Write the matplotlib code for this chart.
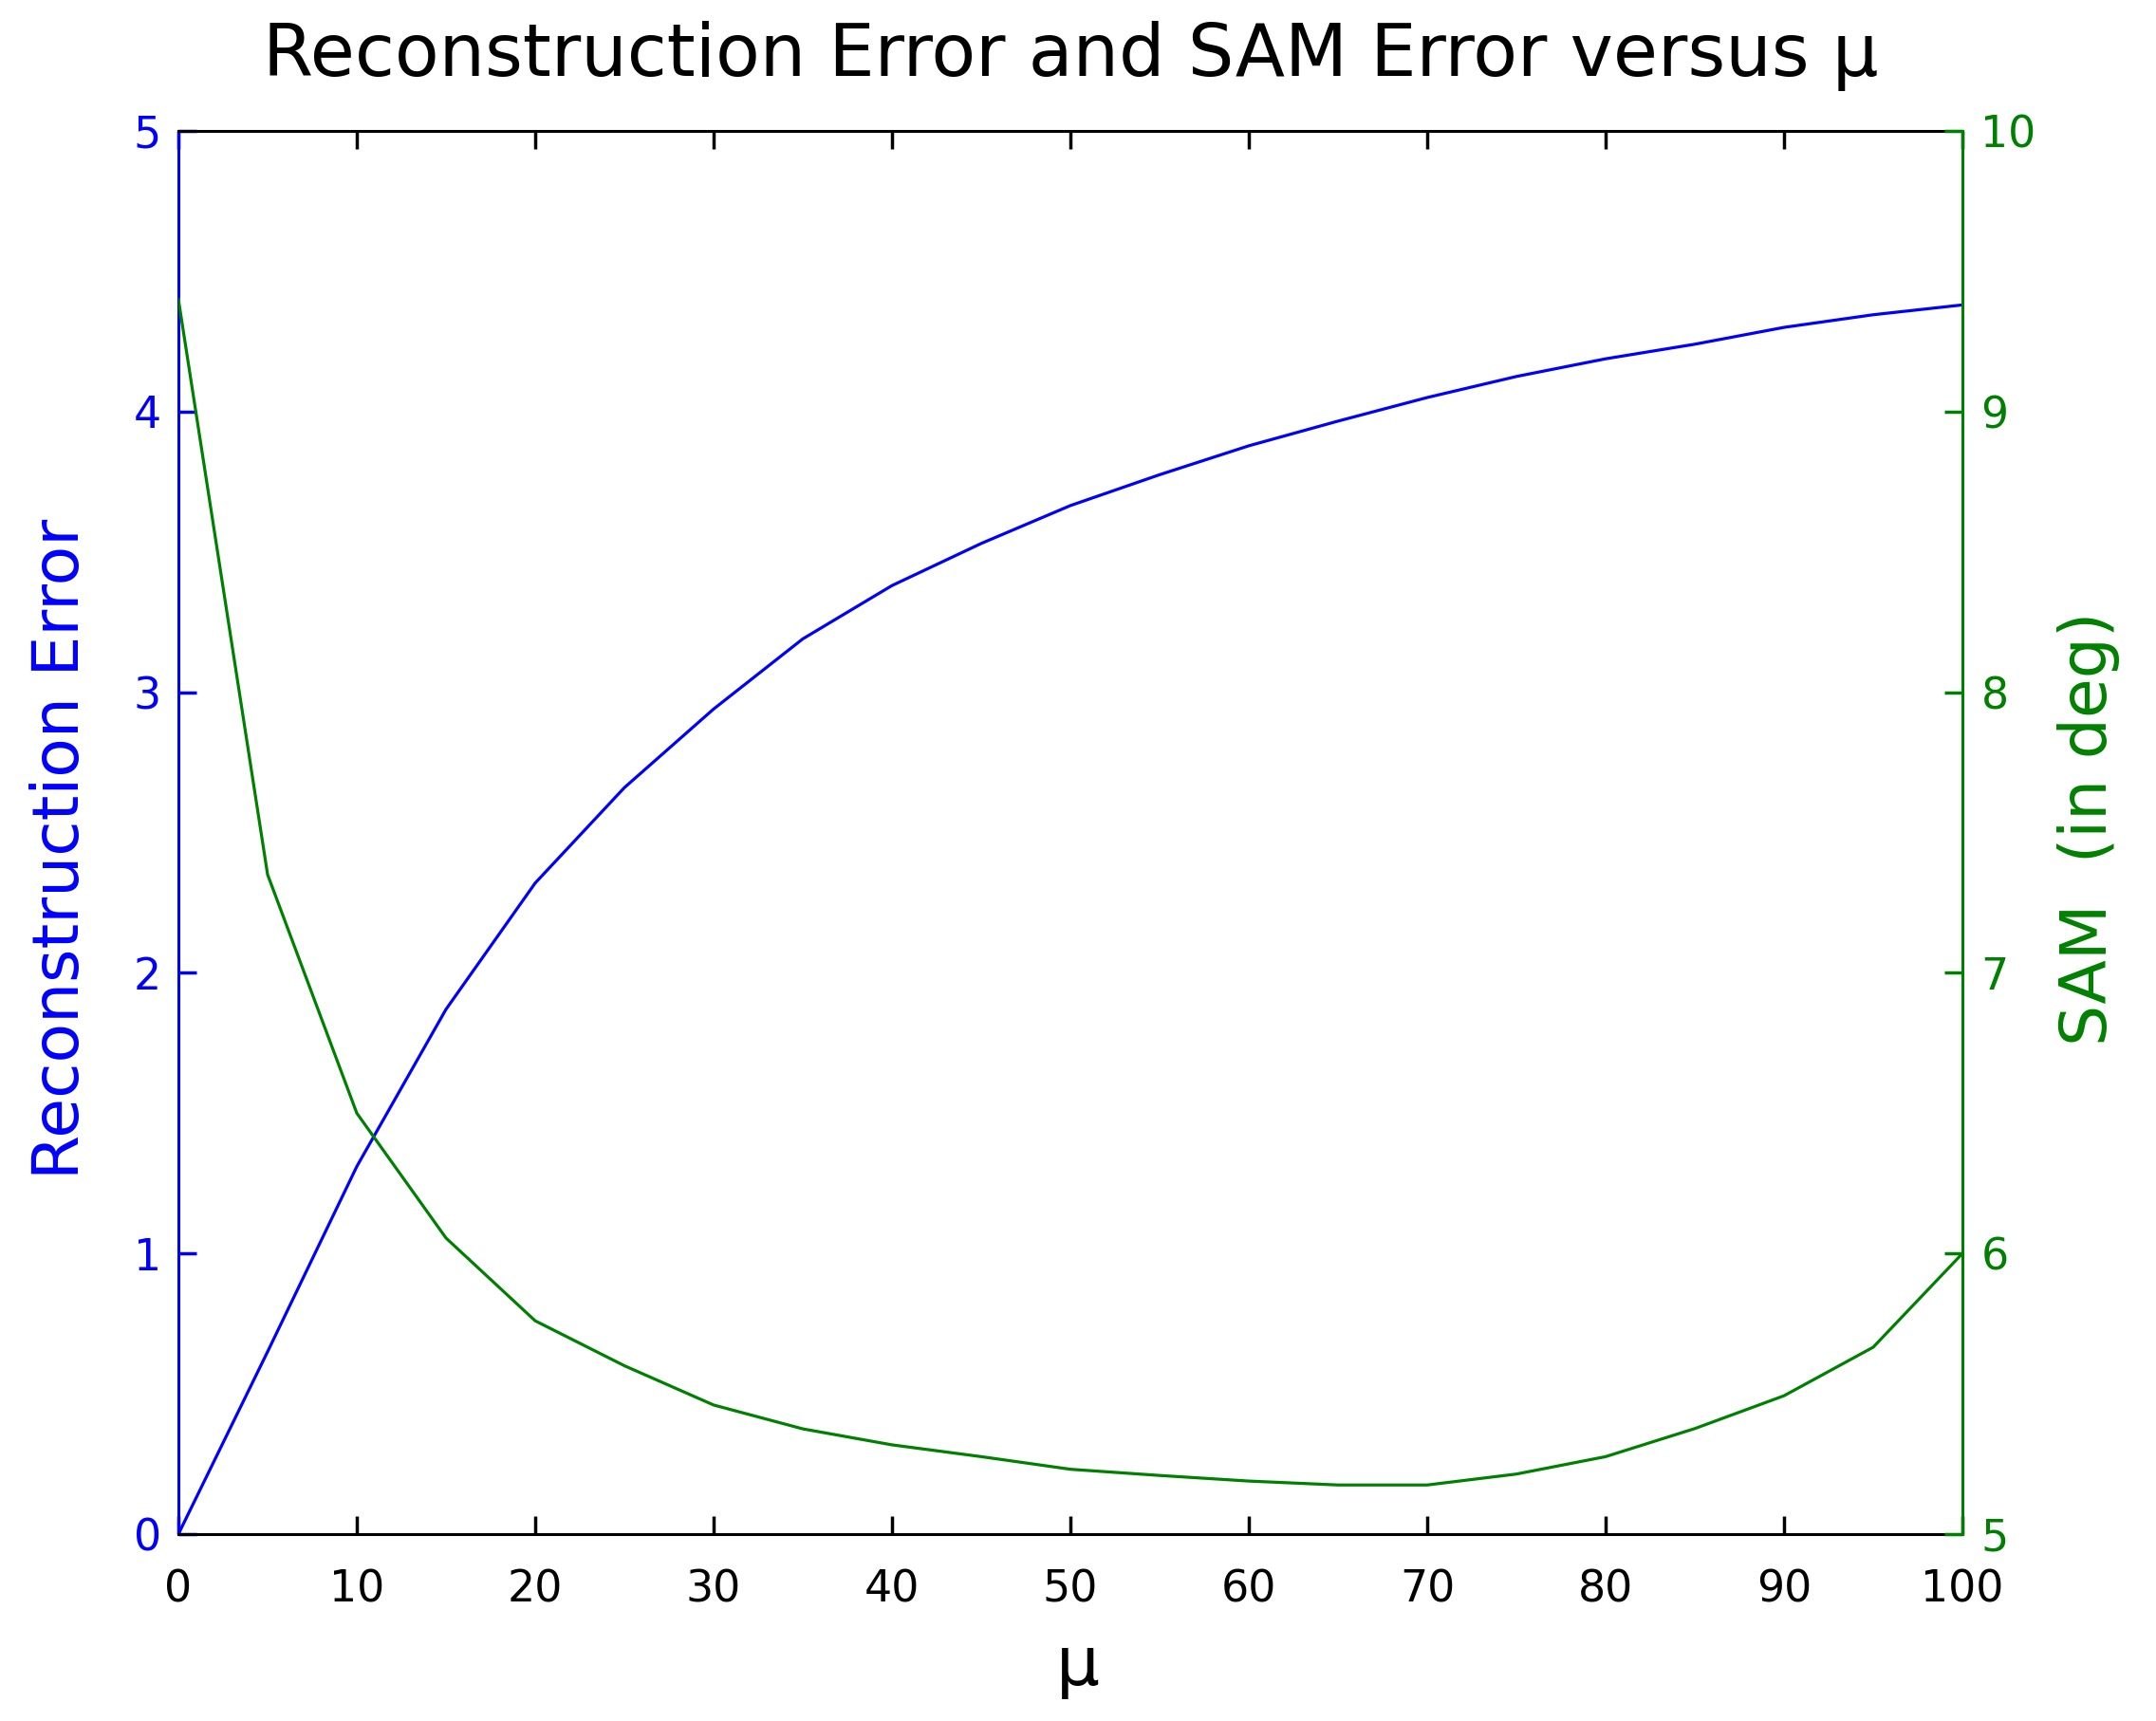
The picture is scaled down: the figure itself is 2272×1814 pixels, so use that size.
import matplotlib.pyplot as plt

# mu values and the two error curves
mu = [0, 5, 10, 15, 20, 25, 30, 35, 40, 45, 50,
      55, 60, 65, 70, 75, 80, 85, 90, 95, 100]
recon_error = [0.0, 0.65, 1.31, 1.87, 2.32, 2.66, 2.94, 3.19, 3.38, 3.53, 3.665,
               3.775, 3.878, 3.966, 4.05, 4.125, 4.188, 4.24, 4.30, 4.345, 4.38]
sam_error = [9.40, 7.35, 6.50, 6.055, 5.76, 5.60, 5.46, 5.375, 5.318, 5.276, 5.231,
             5.209, 5.189, 5.175, 5.175, 5.214, 5.276, 5.376, 5.493, 5.666, 6.0]

x_ticks = list(range(0, 101, 10))
left_ticks = list(range(0, 6))
right_ticks = list(range(5, 11))

BLUE = "#0000ff"
GREEN = "#008000"

fig = plt.figure(figsize=(22.72, 18.14), dpi=100)
ax1 = fig.add_axes([188 / 2272, 1 - 1617 / 1814, 1880 / 2272, 1479 / 1814])
ax2 = ax1.twinx()

ax1.plot(mu, recon_error, color=BLUE, linewidth=2.3)
ax2.plot(mu, sam_error, color=GREEN, linewidth=2.3)

ax1.set_xlim(0, 100)
ax1.set_ylim(0, 5)
ax2.set_ylim(5, 10)
ax1.set_xticks(x_ticks)
ax1.set_yticks(left_ticks)
ax2.set_yticks(right_ticks)

# spines: blue left, green right, black top/bottom
for name in ("left", "top", "bottom"):
    ax2.spines[name].set_visible(False)
ax1.spines["right"].set_visible(False)
ax1.spines["left"].set_color(BLUE)
ax2.spines["right"].set_color(GREEN)
for sp in (ax1.spines["left"], ax1.spines["top"], ax1.spines["bottom"], ax2.spines["right"]):
    sp.set_linewidth(2.2)

ax1.tick_params(axis="x", direction="in", top=True, length=14, width=2.5,
                labelsize=33, pad=26, colors="black")
ax1.tick_params(axis="y", direction="in", length=14, width=2.5,
                labelsize=33, pad=13, colors=BLUE)
ax2.tick_params(axis="y", direction="in", length=14, width=2.5,
                labelsize=33, pad=14, colors=GREEN)

ax1.set_ylabel("Reconstruction Error", color=BLUE, fontsize=49)
ax1.yaxis.set_label_coords(-0.0485, 0.488)
ax2.set_ylabel("SAM  (in deg)", color=GREEN, fontsize=49)
ax2.yaxis.set_label_coords(1.053, 0.503)
ax1.set_xlabel("μ", fontsize=52)
ax1.xaxis.set_label_coords(0.504, -0.071)

fig.text(0.4965, 1 - 80 / 1814, "Reconstruction Error and SAM Error versus μ",
         ha="center", va="baseline", fontsize=55)

fig.savefig("out.png", dpi=100)
